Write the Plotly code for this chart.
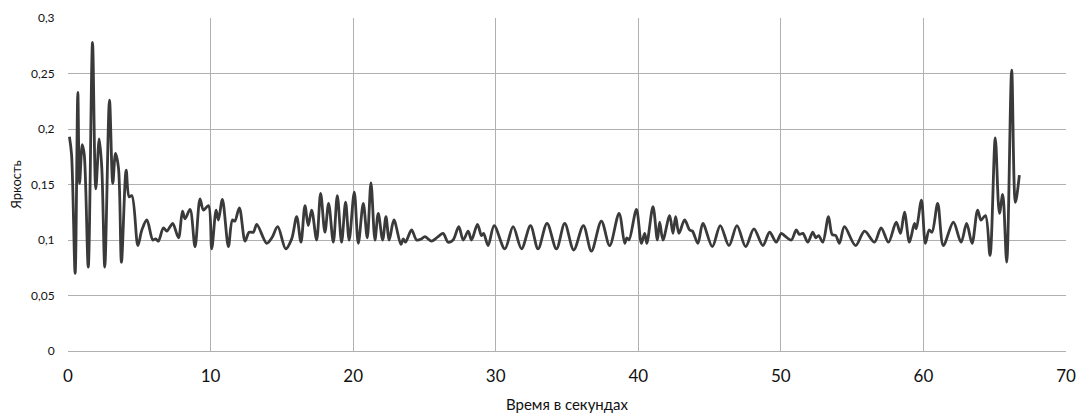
import plotly.graph_objects as go

# Time (s) of the traced peaks / troughs of the brightness curve
time_s = [
    0.1, 0.25, 0.5, 0.69, 0.81, 1.0, 1.14, 1.42, 1.72, 1.95, 2.19, 2.37, 2.58, 2.91, 3.14, 3.33, 3.54, 3.75,
    4.08, 4.29, 4.48, 4.9, 5.18, 5.53, 5.95, 6.15, 6.34, 6.69, 6.93, 7.16, 7.35, 7.75, 8.03, 8.21, 8.56, 8.91,
    9.26, 9.5, 9.85, 10.08, 10.39, 10.55, 10.83, 11.25, 11.53, 11.7, 12.02, 12.42, 12.7, 13.0, 13.24, 13.94,
    14.3, 14.71, 15.27, 15.69, 16.04, 16.34, 16.62, 16.85, 17.09, 17.44, 17.72, 18.02, 18.28, 18.61, 18.89,
    19.19, 19.47, 19.72, 20.08, 20.36, 20.71, 20.99, 21.25, 21.53, 21.76, 22.07, 22.3, 22.53, 22.86, 23.35,
    23.51, 23.67, 24.1, 24.45, 24.8, 25.03, 25.5, 25.96, 26.31, 26.66, 27.01, 27.41, 27.72, 28.07, 28.3,
    28.72, 29.0, 29.15, 29.47, 29.89, 30.64, 31.22, 31.81, 32.44, 32.97, 33.6, 34.26, 34.84, 35.47, 36.15,
    36.71, 37.41, 37.99, 38.65, 39.05, 39.2, 39.35, 39.87, 40.22, 40.45, 40.6, 41.03, 41.34, 41.5, 41.73,
    42.2, 42.43, 42.62, 42.85, 43.25, 43.6, 43.8, 44.18, 44.53, 45.19, 45.75, 46.36, 46.92, 47.53, 48.11,
    48.74, 49.21, 49.68, 50.03, 50.25, 50.73, 51.08, 51.3, 51.55, 51.89, 52.24, 52.45, 52.65, 52.94, 53.34,
    53.6, 53.85, 54.11, 54.46, 55.24, 55.87, 56.57, 57.03, 57.55, 58.09, 58.39, 58.67, 59.02, 59.37, 59.5,
    59.86, 60.14, 60.4, 60.6, 61.0, 61.4, 62.1, 62.64, 63.03, 63.41, 63.8, 64.04, 64.35, 64.67, 65.04,
    65.33, 65.56, 65.84, 66.19, 66.45, 66.73,
]

# Brightness read at those times
brightness = [
    0.193, 0.177, 0.070, 0.233, 0.151, 0.186, 0.177, 0.0756, 0.278, 0.146, 0.191, 0.165, 0.0756, 0.226,
    0.151, 0.178, 0.165, 0.080, 0.163, 0.139, 0.140, 0.095, 0.109, 0.118, 0.100, 0.101, 0.099, 0.111, 0.108,
    0.112, 0.115, 0.102, 0.126, 0.119, 0.1275, 0.094, 0.137, 0.127, 0.131, 0.092, 0.127, 0.118, 0.1365,
    0.094, 0.118, 0.117, 0.129, 0.099, 0.107, 0.107, 0.114, 0.097, 0.102, 0.112, 0.092, 0.101, 0.121,
    0.098, 0.131, 0.113, 0.127, 0.100, 0.142, 0.107, 0.133, 0.098, 0.140, 0.098, 0.134, 0.100, 0.143,
    0.097, 0.133, 0.102, 0.1515, 0.100, 0.124, 0.100, 0.121, 0.100, 0.118, 0.096, 0.101, 0.098, 0.109,
    0.100, 0.101, 0.103, 0.099, 0.103, 0.106, 0.098, 0.100, 0.112, 0.100, 0.108, 0.100, 0.114, 0.104,
    0.106, 0.095, 0.113, 0.092, 0.112, 0.092, 0.113, 0.092, 0.115, 0.092, 0.115, 0.091, 0.113, 0.090,
    0.117, 0.095, 0.124, 0.097, 0.102, 0.100, 0.1275, 0.097, 0.106, 0.097, 0.130, 0.100, 0.116, 0.100,
    0.122, 0.106, 0.121, 0.106, 0.118, 0.109, 0.108, 0.097, 0.115, 0.094, 0.113, 0.095, 0.113, 0.094,
    0.110, 0.095, 0.107, 0.098, 0.106, 0.104, 0.100, 0.109, 0.105, 0.106, 0.098, 0.107, 0.102, 0.104,
    0.098, 0.121, 0.105, 0.104, 0.097, 0.112, 0.095, 0.108, 0.098, 0.111, 0.098, 0.116, 0.106, 0.125,
    0.098, 0.115, 0.110, 0.136, 0.097, 0.109, 0.107, 0.133, 0.095, 0.116, 0.098, 0.115, 0.097, 0.127,
    0.118, 0.122, 0.086, 0.192, 0.124, 0.141, 0.080, 0.253, 0.134, 0.1585,
]

x_ticks = [0, 10, 20, 30, 40, 50, 60, 70]
y_ticks = [0, 0.05, 0.1, 0.15, 0.2, 0.25, 0.3]
y_tick_labels = ["0", "0,05", "0,1", "0,15", "0,2", "0,25", "0,3"]

fig = go.Figure()
fig.add_trace(go.Scatter(
    x=time_s, y=brightness, mode="lines",
    line=dict(color="#3a3a3a", width=2.8, shape="spline", smoothing=0.9),
    showlegend=False, hoverinfo="x+y",
))

grid = "#b0b0b0"
# the page body adds an 8px offset, so the figure is sized 8px smaller
fig.update_layout(
    width=1081, height=406,
    margin=dict(l=60, r=23, t=10, b=63),
    paper_bgcolor="white", plot_bgcolor="white",
    font=dict(family="Lato, 'Open Sans', sans-serif", color="#222"),
    separators=", ",
    xaxis=dict(
        range=[0, 70], tickvals=x_ticks, ticktext=[str(v) for v in x_ticks],
        showgrid=True, gridcolor=grid, gridwidth=1, zeroline=False,
        showline=True, linecolor=grid, mirror=False, automargin=False,
        ticks="outside", ticklen=10, tickcolor="rgba(0,0,0,0)",
        tickfont=dict(size=17, color="#111"),
        title=dict(text="Время в секундах", font=dict(size=15, color="#111"), standoff=14),
    ),
    yaxis=dict(
        range=[0, 0.3], tickvals=y_ticks, ticktext=y_tick_labels,
        showgrid=True, gridcolor=grid, gridwidth=1, zeroline=False,
        showline=False, automargin=False,
        ticks="outside", ticklen=10, tickcolor="rgba(0,0,0,0)",
        tickfont=dict(size=12, color="#111"),
        title=dict(text="Яркость", font=dict(size=13, color="#111"), standoff=10),
    ),
)

fig.write_html("out.html")
